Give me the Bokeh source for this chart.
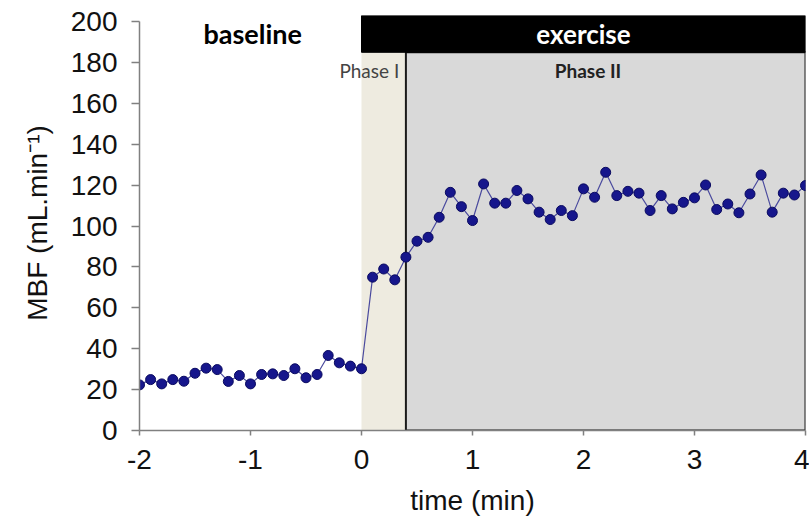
from bokeh.plotting import figure
from bokeh.models import Range1d, FixedTicker, ColumnDataSource, Label
from bokeh.embed import file_html
from bokeh.resources import INLINE

# ---- data ----
time_min = [-2.0, -1.9, -1.8, -1.7, -1.6, -1.5, -1.4, -1.3, -1.2, -1.1,
            -1.0, -0.9, -0.8, -0.7, -0.6, -0.5, -0.4, -0.3, -0.2, -0.1,
            0.0, 0.1, 0.2, 0.3, 0.4, 0.5, 0.6, 0.7, 0.8, 0.9,
            1.0, 1.1, 1.2, 1.3, 1.4, 1.5, 1.6, 1.7, 1.8, 1.9,
            2.0, 2.1, 2.2, 2.3, 2.4, 2.5, 2.6, 2.7, 2.8, 2.9,
            3.0, 3.1, 3.2, 3.3, 3.4, 3.5, 3.6, 3.7, 3.8, 3.9, 4.0]
mbf = [22.3, 24.9, 22.8, 24.9, 24.1, 28.0, 30.5, 29.8, 24.0, 26.9,
       22.8, 27.4, 27.7, 26.9, 30.2, 25.8, 27.4, 36.7, 33.1, 31.5,
       30.2, 75.0, 79.0, 73.7, 84.8, 92.6, 94.5, 104.3, 116.5, 109.5,
       102.7, 120.6, 111.2, 111.2, 117.4, 113.3, 106.8, 103.2, 107.6, 105.1,
       118.2, 114.1, 126.3, 114.9, 117.0, 116.1, 107.6, 114.9, 108.4, 111.6,
       113.8, 120.1, 108.1, 110.8, 106.5, 115.7, 125.0, 106.8, 116.1, 115.2, 119.8]

x_ticks = [-2, -1, 0, 1, 2, 3, 4]
x_tick_labels = ["-2", "-1", "0", "1", "2", "3", "4"]
y_ticks = [0, 20, 40, 60, 80, 100, 120, 140, 160, 180, 200]

phase1_start = 0.0
phase2_start = 0.4
exercise_end = 4.0
bar_bottom = 185
bar_top = 203

period_labels = ["baseline", "exercise"]
phase_labels = ["Phase I", "Phase II"]

# ---- figure ----
p = figure(width=809, height=525, output_backend="svg", toolbar_location=None,
           x_range=Range1d(-2, 4), y_range=Range1d(0, 203),
           min_border_left=139, min_border_right=4, min_border_top=15,
           min_border_bottom=95, background_fill_color="white",
           border_fill_color="white")
p.outline_line_color = None
p.grid.visible = False

# shaded phases
p.quad(left=[phase1_start], right=[phase2_start], bottom=[0], top=[bar_bottom],
       fill_color="#eeebe0", line_color=None)
p.quad(left=[phase2_start], right=[exercise_end], bottom=[0], top=[bar_bottom],
       fill_color="#d9d9d9", line_color="#1a1a1a", line_width=2)
# exercise bar
p.quad(left=[phase1_start], right=[exercise_end], bottom=[bar_bottom], top=[bar_top],
       fill_color="black", line_color="black")

src = ColumnDataSource(dict(t=time_min, v=mbf))
p.line("t", "v", source=src, line_color="#4a4a9e", line_width=1.2)
p.scatter("t", "v", source=src, size=10, fill_color="#16168c",
          line_color="#0a0a60", line_width=1)

# texts
p.add_layout(Label(x=-0.98, y=194, text=period_labels[0], text_align="center",
                   text_baseline="middle", text_font="Lato", text_font_style="bold",
                   text_font_size="27px", text_color="black"))
p.add_layout(Label(x=2.0, y=194, text=period_labels[1], text_align="center",
                   text_baseline="middle", text_font="Lato", text_font_style="bold",
                   text_font_size="26px", text_color="white"))
p.add_layout(Label(x=0.34, y=176, text=phase_labels[0], text_align="right",
                   text_baseline="middle", text_font="Lato",
                   text_font_size="19px", text_color="#444444"))
p.add_layout(Label(x=2.04, y=176, text=phase_labels[1], text_align="center",
                   text_baseline="middle", text_font="Lato", text_font_style="bold",
                   text_font_size="19px", text_color="#222222"))

# axes
for ax in (p.xaxis[0], p.yaxis[0]):
    ax.axis_line_color = "#808080"
    ax.axis_line_width = 1.5
    ax.major_tick_line_color = "#808080"
    ax.major_tick_line_width = 1.5
    ax.major_tick_in = 0
    ax.minor_tick_line_color = None
    ax.major_label_text_font = "Liberation Sans"
    ax.major_label_text_font_size = "28px"
    ax.major_label_text_font_style = "normal"
    ax.major_label_text_color = "#111111"
    ax.axis_label_text_font = "Liberation Sans"
    ax.axis_label_text_font_size = "28px"
    ax.axis_label_text_font_style = "normal"
    ax.axis_label_text_color = "#111111"

p.xaxis.ticker = FixedTicker(ticks=x_ticks)
p.xaxis.major_label_overrides = {t: s for t, s in zip(x_ticks, x_tick_labels)}
p.yaxis.ticker = FixedTicker(ticks=y_ticks)
p.yaxis.bounds = (0, 200)
p.xaxis.major_tick_out = 5
p.yaxis.major_tick_out = 8
p.xaxis.major_label_standoff = 14
p.yaxis.major_label_standoff = 14
p.xaxis.axis_label = "time (min)"
p.yaxis.axis_label = "MBF (mL.min\u207b\u00b9)"
p.xaxis.axis_label_standoff = 13
p.yaxis.axis_label_standoff = 15

open("out.html", "w").write(file_html(p, INLINE))
